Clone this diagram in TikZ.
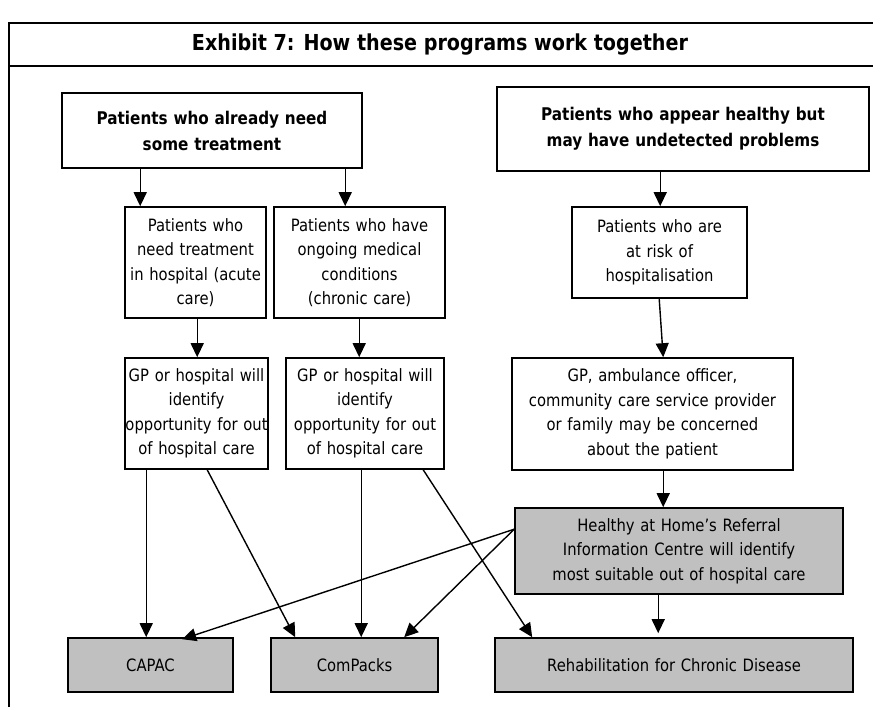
\documentclass[tikz,border=0pt]{standalone}
\usepackage{fontspec}
\setmainfont{DejaVu Sans}[FakeStretch=0.87]
\usetikzlibrary{arrows.meta,calc}
\definecolor{boxgray}{HTML}{C0C0C0}
\begin{document}
\begin{tikzpicture}[x=1pt,y=-1pt,
  box/.style 2 args={draw=black, line width=1.6pt, fill=white, inner sep=0pt, align=center,
    text width=#1, minimum height=#2, font=\fontsize{17}{24.5}\selectfont},
  graybox/.style 2 args={box={#1}{#2}, fill=boxgray},
  headbox/.style 2 args={box={#1}{#2}, font=\fontsize{17.5}{26}\selectfont\bfseries},
  arr/.style={line width=1.4pt, -{Triangle[length=14pt,width=13pt]}}]
\useasboundingbox (0,0) rectangle (873,707);

% outer frame with title band
\draw[line width=2.2pt] (9,707) -- (9,23) -- (873,23);
\draw[line width=2.2pt] (9,66) -- (873,66);
\node[font=\fontsize{22}{26}\selectfont\bfseries] (title) at (440,45) {Exhibit 7: How these programs work together};

% top row
\node[headbox={300pt}{75pt}] (A) at (212,130.5)
  {Patients who already need\\some treatment};
\node[headbox={372pt}{84pt}] (B) at (683,129)
  {Patients who appear healthy but\\may have undetected problems};

% second row
\node[box={141pt}{111pt}] (C) at (195.5,262.5)
  {Patients who\\need treatment\\in hospital (acute\\care)};
\node[box={171pt}{111pt}] (D) at (359.5,262.5)
  {Patients who have\\ongoing medical\\conditions\\(chronic care)};
\node[box={175pt}{91pt}] (E) at (659.5,252.5)
  {Patients who are\\at risk of\\hospitalisation};

% third row
\node[box={143pt}{111pt}] (F) at (196.5,413.5)
  {GP or hospital will\\identify\\opportunity for out\\of hospital care};
\node[box={158pt}{111pt}] (G) at (365,413.5)
  {GP or hospital will\\identify\\opportunity for out\\of hospital care};
\node[box={281pt}{112pt}] (H) at (652.5,414)
  {GP, ambulance officer,\\community care service provider\\or family may be concerned\\about the patient};

% referral centre
\node[graybox={328pt}{86pt}] (I) at (679,551)
  {Healthy at Home’s Referral\\Information Centre will identify\\most suitable out of hospital care};

% programs
\node[graybox={165pt}{54pt}] (P1) at (150.5,665) {CAPAC};
\node[graybox={167pt}{54pt}] (P2) at (354.5,665) {ComPacks};
\node[graybox={358pt}{54pt}] (P3) at (674,665) {Rehabilitation for Chronic Disease};

% connectors
\draw[arr] ($(A.south west)+(79,0)$) -- ($(C.north west)+(16,0)$);
\draw[arr] ($(A.south west)+(284,0)$) -- ($(D.north west)+(72,0)$);
\draw[arr] ($(B.south west)+(164,0)$) -- ($(E.north west)+(89,0)$);

\draw[arr] ($(C.south west)+(73,0)$) -- ($(F.north west)+(73,0)$);
\draw[arr] ($(D.south west)+(86,0)$) -- ($(G.north west)+(74,0)$);
\draw[arr] ($(E.south west)+(88,0)$) -- ($(H.north west)+(152,0)$);

\draw[arr] ($(H.south west)+(152,0)$) -- ($(I.north west)+(149,0)$);

\draw[arr] ($(F.south west)+(22,0)$) -- ($(P1.north west)+(79,0)$);
\draw[arr] ($(F.south west)+(83,0)$) -- ($(P2.north west)+(25,0)$);
\draw[arr] ($(G.south west)+(76,0)$) -- ($(P2.north west)+(91,0)$);
\draw[arr] ($(G.south west)+(138,0)$) -- ($(P3.north west)+(38,0)$);

\draw[arr] ($(I.north west)+(0,22)$) -- ($(P1.north west)+(115,2)$);
\draw[arr] ($(I.north west)+(0,22)$) -- ($(P2.north west)+(134,0)$);
\draw[arr] ($(I.south west)+(144,0)$) -- ($(P3.north west)+(164,-4)$);
\end{tikzpicture}
\end{document}
